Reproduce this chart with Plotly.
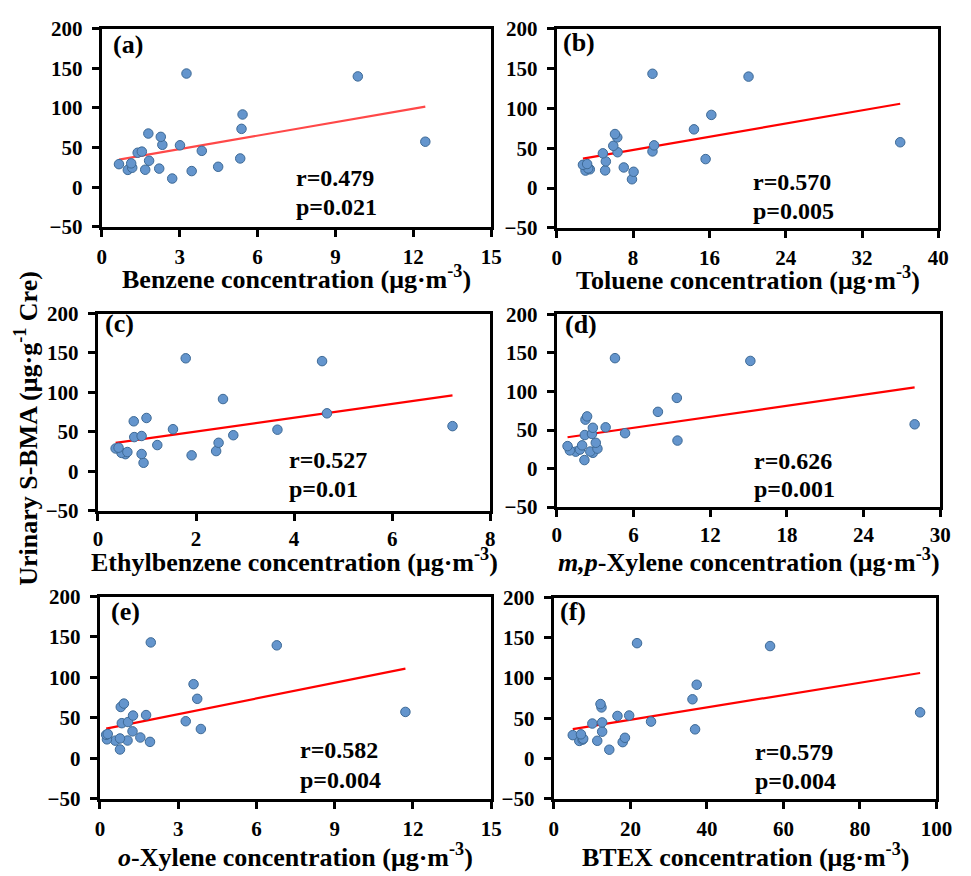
import numpy as np
import plotly.graph_objects as go

# Urinary S-BMA (µg/g creatinine) for each of the 23 participants
sbma = [11.0, 20.4, 21.9, 22.1, 23.5, 24.6, 25.8, 29.1, 30.1, 33.4, 36.3, 43.5,
        44.9, 45.9, 53.5, 52.9, 57.4, 63.5, 67.7, 73.6, 91.7, 139.7, 143.3]

# Personal exposure concentrations (µg/m3), same participant order
benzene = [2.71, 3.46, 1.00, 1.67, 2.21, 1.17, 4.48, 0.66, 1.13, 1.82, 5.33, 1.38,
           1.54, 3.85, 2.33, 3.01, 12.46, 2.27, 1.79, 5.38, 5.42, 9.86, 3.26]
toluene = [7.88, 8.05, 3.01, 5.07, 3.46, 3.29, 7.02, 2.74, 3.18, 5.14, 15.6, 4.83,
           6.37, 10.03, 10.2, 5.92, 36.0, 6.34, 6.10, 14.38, 16.2, 20.1, 10.03]
ethylbenzene = [0.93, 1.91, 0.56, 0.89, 0.48, 0.60, 2.41, 0.36, 0.42, 1.21, 2.46, 0.74,
                0.89, 2.76, 1.53, 3.66, 7.23, 0.73, 0.99, 4.67, 2.55, 4.57, 1.79]
mp_xylene = [2.16, 2.82, 1.48, 2.62, 1.02, 1.81, 3.18, 0.84, 1.98, 3.05, 9.44, 2.19,
             2.75, 5.34, 3.82, 2.82, 27.99, 2.24, 2.37, 7.91, 9.39, 15.14, 4.55]
o_xylene = [0.77, 1.92, 0.59, 1.06, 0.27, 0.77, 1.55, 0.24, 0.30, 1.25, 3.87, 0.84,
            1.08, 3.29, 1.77, 1.27, 11.71, 0.80, 0.92, 3.73, 3.59, 6.78, 1.95]
btex = [14.49, 17.99, 6.65, 11.34, 7.50, 7.67, 18.58, 4.94, 7.08, 12.62, 36.91, 10.06,
        12.62, 25.4, 19.69, 16.62, 95.74, 12.45, 12.19, 36.23, 37.34, 56.52, 21.74]

# Linear trend (S-BMA = slope * concentration + intercept) for each compound
fit_slope = [5.66, 2.067, 8.74, 2.383, 6.45, 0.767]
fit_intercept = [31.1, 31.3, 33.1, 38.6, 35.3, 32.8]

panel_tags = ["(a)", "(b)", "(c)", "(d)", "(e)", "(f)"]
r_values = ["0.479", "0.570", "0.527", "0.626", "0.582", "0.579"]
p_values = ["0.021", "0.005", "0.01", "0.001", "0.004", "0.004"]
x_titles = [
    "Benzene concentration (μg·m<sup>-3</sup>)",
    "Toluene concentration (μg·m<sup>-3</sup>)",
    "Ethylbenzene concentration (μg·m<sup>-3</sup>)",
    "<i>m,p</i>-Xylene concentration (μg·m<sup>-3</sup>)",
    "<i>o</i>-Xylene concentration (μg·m<sup>-3</sup>)",
    "BTEX concentration (μg·m<sup>-3</sup>)",
]
x_series = [benzene, toluene, ethylbenzene, mp_xylene, o_xylene, btex]
x_max = [15, 40, 8, 30, 15, 100]
x_step = [3, 8, 2, 6, 3, 20]
y_ticks = [-50, 0, 50, 100, 150, 200]

W, H = 971, 876
# plot-area boxes in pixels: (left, right, top, bottom)
boxes = [
    (99, 497, 17, 221), (564, 954, 17, 222),
    (95, 496, 310, 513), (564, 956, 311, 509),
    (97, 497, 601, 809), (561, 952, 602, 809),
]
# vertical centre (px) of each x-axis title and gap of its tick labels
x_title_y = [273, 274, 564, 564, 867, 867]
x_label_gap = [2, 2, 0, 0, 2, 2]
tag_pos = [(0.068, 0.92), (0.057, 0.928), (0.056, 0.95),
           (0.062, 0.95), (0.066, 0.924), (0.049, 0.929)]
stat_pos = [(0.494, 0.245, 0.103), (0.510, 0.229, 0.083), (0.482, 0.257, 0.109),
            (0.510, 0.240, 0.095), (0.507, 0.240, 0.092), (0.520, 0.233, 0.091)]
fit_colors = ["#ff4848", "#ff0000", "#ff0000", "#ff0000", "#ff0000", "#ff0000"]

SERIF = "Liberation Serif"
tick_font = dict(family=SERIF, size=21, color="black", weight="bold")
title_font = dict(family=SERIF, size=26, color="black", weight="bold")
stat_font = dict(family=SERIF, size=24, color="black", weight="bold")
tag_font = dict(family=SERIF, size=26, color="black", weight="bold")

fig = go.Figure()
annotations = []
layout = {}

for i in range(6):
    sfx = "" if i == 0 else str(i + 1)
    xname, yname = "x" + sfx, "y" + sfx
    xs = np.array(x_series[i], dtype=float)
    ys = np.array(sbma, dtype=float)

    # trend line spanning the observed exposure range
    line_x = np.array([xs.min(), xs.max()])
    fig.add_trace(go.Scatter(
        x=line_x, y=fit_slope[i] * line_x + fit_intercept[i], mode="lines",
        line=dict(color=fit_colors[i], width=2.2),
        xaxis=xname, yaxis=yname, showlegend=False, hoverinfo="skip"))

    fig.add_trace(go.Scatter(
        x=xs, y=ys, mode="markers",
        marker=dict(size=9.5, color="#6495cd", line=dict(color="#3e6a96", width=1)),
        xaxis=xname, yaxis=yname, showlegend=False))

    l, r, t, b = boxes[i]
    common = dict(showline=True, mirror=True, linecolor="black", linewidth=3.3,
                  ticks="outside", ticklen=7, tickwidth=2.6, tickcolor="black",
                  showgrid=False, zeroline=False, tickfont=tick_font)
    layout["xaxis" + sfx] = dict(
        domain=[l / W, r / W], anchor=yname, range=[0, x_max[i]],
        tickmode="linear", tick0=0, dtick=x_step[i],
        ticklabelstandoff=x_label_gap[i], **common)
    layout["yaxis" + sfx] = dict(
        domain=[1 - b / H, 1 - t / H], anchor=xname, range=[-50, 200],
        tickmode="array", tickvals=y_ticks, ticklabelstandoff=5, **common)

    # x-axis title, centred under its panel
    annotations.append(dict(
        text=x_titles[i], x=(l + r) / 2 / W, y=1 - x_title_y[i] / H,
        xref="paper", yref="paper", showarrow=False, font=title_font,
        xanchor="center", yanchor="middle"))

    tx, ty = tag_pos[i]
    annotations.append(dict(
        text=panel_tags[i], x=tx, y=ty, xref=xname + " domain", yref=yname + " domain",
        showarrow=False, font=tag_font, xanchor="center", yanchor="middle"))
    sx, ry, py = stat_pos[i]
    annotations.append(dict(
        text="r=" + r_values[i], x=sx, y=ry, xref=xname + " domain", yref=yname + " domain",
        showarrow=False, font=stat_font, xanchor="left", yanchor="middle"))
    annotations.append(dict(
        text="p=" + p_values[i], x=sx, y=py, xref=xname + " domain", yref=yname + " domain",
        showarrow=False, font=stat_font, xanchor="left", yanchor="middle"))

# shared y-axis title
annotations.append(dict(
    text="Urinary S-BMA (μg·g<sup>-1</sup> Cre)", x=22 / W, y=1 - 428 / H,
    xref="paper", yref="paper", textangle=-90, showarrow=False,
    font=title_font, xanchor="center", yanchor="middle"))

fig.update_layout(
    width=W, height=H, margin=dict(l=0, r=0, t=0, b=0),
    paper_bgcolor="white", plot_bgcolor="white",
    annotations=annotations, **layout)

fig.write_html("out.html")
